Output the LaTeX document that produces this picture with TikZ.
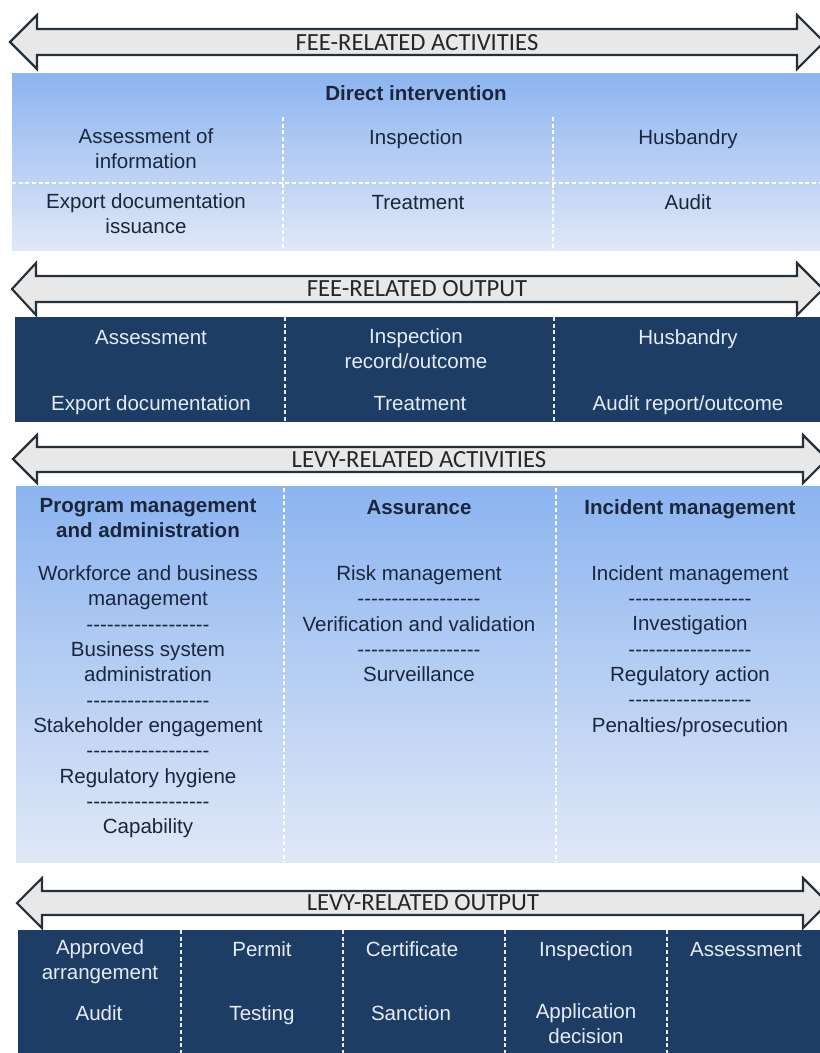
\documentclass[tikz,border=0pt]{standalone}
\usepackage{fontspec}
\setmainfont{Liberation Sans}
\newfontfamily\bannerfont{Carlito}

\definecolor{arrowfill}{RGB}{232,232,232}
\definecolor{arrowedge}{RGB}{38,48,56}
\definecolor{panelTop}{RGB}{140,180,240}
\definecolor{panelBottom}{RGB}{224,232,247}
\definecolor{navyPanel}{RGB}{30,61,100}
\definecolor{inkNavy}{RGB}{26,38,60}
\definecolor{paleInk}{RGB}{230,236,245}

\newcommand{\hyphenrow}{\foreach \k in {1,...,18}{-\kern0pt}}

\tikzset{
  bararrow/.style={draw=arrowedge, fill=arrowfill, line width=1.6pt, line join=miter},
  bannertext/.style={font=\bannerfont\fontsize{18.5}{20}\selectfont, text=black!85, inner sep=0pt},
  bluepanel/.style={top color=panelTop, bottom color=panelBottom, draw=none},
  navypanel/.style={fill=navyPanel, draw=none},
  softsep/.style={draw=white, line width=1pt, dash pattern=on 3pt off 2pt},
  hardsep/.style={draw=white!90!navyPanel, line width=1.5pt, dash pattern=on 3pt off 2pt},
  celltext/.style={font=\fontsize{15.4}{19}\selectfont, text=inkNavy, align=center, inner sep=0pt,
    yshift=-2pt, execute at begin node=\strut, execute at end node=\strut},
  cellhead/.style={celltext, font=\fontsize{15.4}{19}\selectfont\bfseries},
  outtext/.style={celltext, text=paleInk},
}

\begin{document}
\begin{tikzpicture}[x=0.75pt,y=0.75pt,yscale=-1,xscale=1]
\useasboundingbox (0,0) rectangle (820,1053);
\clip (0,0) rectangle (820,1053);

%Shape: Left-Right Arrow [fee activities]
\draw [bararrow] (10,42) -- (37,15) -- (37,29) -- (797,29) -- (797,15) -- (824,42) -- (797,69) -- (797,55) -- (37,55) -- (37,69) -- cycle ;
%Shape: Rectangle
\fill [bluepanel] (12,73) rectangle (820,250) ;
%Straight Lines
\draw [softsep] (12,183) -- (820,183) ;
\draw [softsep] (283,117) -- (283,250) ;
\draw [softsep] (553,117) -- (553,250) ;

%Shape: Left-Right Arrow [fee output]
\draw [bararrow] (12,289) -- (36,263) -- (36,276) -- (797,276) -- (797,263) -- (823,289) -- (797,315) -- (797,302) -- (36,302) -- (36,315) -- cycle ;
%Shape: Rectangle
\fill [navypanel] (15,317) rectangle (820,422) ;
%Straight Lines
\draw [hardsep] (285,317) -- (285,422) ;
\draw [hardsep] (554,317) -- (554,422) ;

%Shape: Left-Right Arrow [levy activities]
\draw [bararrow] (13,459) -- (37,435) -- (37,447) -- (803,447) -- (803,435) -- (827,459) -- (803,483) -- (803,472) -- (37,472) -- (37,483) -- cycle ;
%Shape: Rectangle
\fill [bluepanel] (16,486) rectangle (820,862) ;
%Straight Lines
\draw [softsep] (284,488) -- (284,862) ;
\draw [softsep] (556,488) -- (556,862) ;

%Shape: Left-Right Arrow [levy output]
\draw [bararrow] (17,903) -- (42,878) -- (42,891) -- (803,891) -- (803,878) -- (828,903) -- (803,928) -- (803,915) -- (42,915) -- (42,928) -- cycle ;
%Shape: Rectangle
\fill [navypanel] (18,930) rectangle (820,1053) ;
%Straight Lines
\draw [hardsep] (181,930) -- (181,1053) ;
\draw [hardsep] (343,930) -- (343,1053) ;
\draw [hardsep] (505,930) -- (505,1053) ;
\draw [hardsep] (667,930) -- (667,1053) ;

% Text Node
\node [bannertext] (feeact) at (417,43) {FEE-RELATED ACTIVITIES};
\node [bannertext] (feeout) at (417,289) {FEE-RELATED OUTPUT};
\node [bannertext] (levyact) at (419,460) {LEVY-RELATED ACTIVITIES};
\node [bannertext] (levyout) at (423,903) {LEVY-RELATED OUTPUT};

% Text Node
\node [cellhead] (direct) at (416,93) {Direct intervention};
\node [celltext] (assessinfo) at (146,150) {Assessment of\\information};
\node [celltext] (inspect) at (416,137) {Inspection};
\node [celltext] (husbandry) at (688,137) {Husbandry};
\node [celltext] (exportiss) at (146,215) {Export documentation\\issuance};
\node [celltext] (treatment) at (418,202) {Treatment};
\node [celltext] (audit) at (688,202) {Audit};

% Text Node
\node [outtext] (assessout) at (151,337) {Assessment};
\node [outtext] (inspectout) at (416,350) {Inspection\\record/outcome};
\node [outtext] (husbandryout) at (688,337) {Husbandry};
\node [outtext] (exportout) at (151,403) {Export documentation};
\node [outtext] (treatmentout) at (420,403) {Treatment};
\node [outtext] (auditout) at (688,403) {Audit report/outcome};

% Text Node
\node [cellhead] (progmgmt) at (148,519) {Program management\\and administration};
\node [cellhead] (assurance) at (419,507) {Assurance};
\node [cellhead] (incident) at (690,507) {Incident management};
\node [celltext] (progitems) at (148,701) {Workforce and business\\management\\\hyphenrow\\Business system\\administration\\\hyphenrow\\Stakeholder engagement\\\hyphenrow\\Regulatory hygiene\\\hyphenrow\\Capability};
\node [celltext] (assuritems) at (419,625) {Risk management\\\hyphenrow\\Verification and validation\\\hyphenrow\\Surveillance};
\node [celltext] (incitems) at (690,650) {Incident management\\\hyphenrow\\Investigation\\\hyphenrow\\Regulatory action\\\hyphenrow\\Penalties/prosecution};

% Text Node
\node [outtext] (approved) at (100,961) {Approved\\arrangement};
\node [outtext] (auditlevy) at (99,1013) {Audit};
\node [outtext] (permit) at (262,949) {Permit};
\node [outtext] (testing) at (262,1013) {Testing};
\node [outtext] (certificate) at (412,949) {Certificate};
\node [outtext] (sanction) at (411,1013) {Sanction};
\node [outtext] (inspectlevy) at (586,949) {Inspection};
\node [outtext] (application) at (586,1025) {Application\\decision};
\node [outtext] (assesslevy) at (746,949) {Assessment};

\end{tikzpicture}
\end{document}
